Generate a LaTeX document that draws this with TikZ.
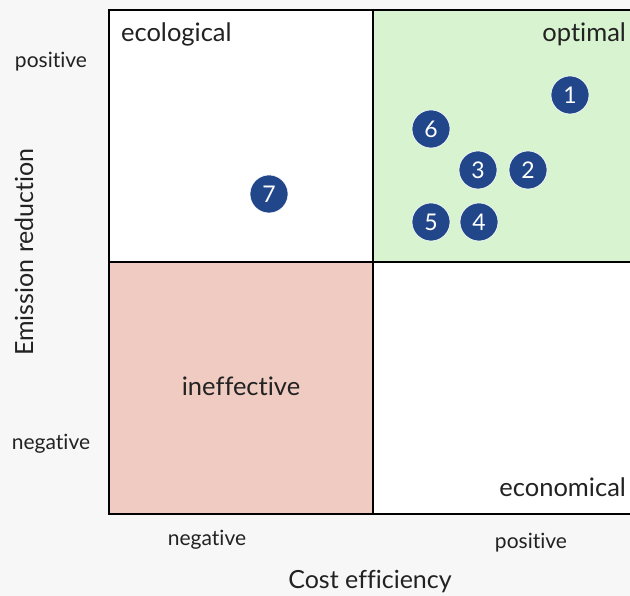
\documentclass[tikz,border=0pt]{standalone}
\usepackage{fontspec}
\setmainfont[Ligatures=NoCommon]{Lato}
\tikzset{
every picture/.style={
line width=1.5pt
}}
\usetikzlibrary{positioning}
\definecolor{bggray}{HTML}{F7F7F7}
\definecolor{optgreen}{HTML}{D8F3CF}
\definecolor{ineffred}{HTML}{F0CBC1}
\definecolor{dotblue}{HTML}{21478A}
\definecolor{textgray}{HTML}{222222}

\begin{document}
\begin{tikzpicture}[x=1pt, y=1pt,
cell/.style = {rectangle, draw=black, minimum width=264pt, minimum height=252pt, inner sep=0pt},
dot/.style = {circle, fill=dotblue, draw=white, line width=0.6pt, minimum size=38pt, inner sep=0pt, text=white, font=\fontsize{23}{23}\selectfont},
lbl/.style = {text=textgray, font=\fontsize{25.5}{25.5}\selectfont},
tick/.style = {text=textgray, font=\fontsize{21}{21}\selectfont},
axis/.style = {text=textgray, font=\fontsize{25}{25}\selectfont}]
\useasboundingbox[fill=bggray] (0,0) rectangle (630,596);

\node[cell, fill=white] at (241,460) (eco) {};
\node[cell, fill=optgreen] at (505,460) (opt) {};
\node[cell, fill=ineffred] at (241,208) (ineff) {};
\node[cell, fill=white] at (505,208) (econ) {};

\node[lbl, anchor=base west] at (117,554) (ecol) {ecological};
\node[lbl, anchor=base east] at (630,554) (optl) {optimal};
\node[lbl] at (241,210) (ineffl) {ineffective};
\node[lbl, anchor=base east] at (630,99) (econl) {economical};

\node[dot] at (570,501) (d1) {1};
\node[dot] at (528,426) (d2) {2};
\node[dot] at (478,426) (d3) {3};
\node[dot] at (479,374) (d4) {4};
\node[dot] at (431,374) (d5) {5};
\node[dot] at (431,467) (d6) {6};
\node[dot] at (269,402) (d7) {7};

\node[tick] at (51,534) (ypos) {positive};
\node[tick] at (51,152) (yneg) {negative};
\node[axis, rotate=90] at (24,344) (ylab) {Emission reduction};
\node[tick] at (207,56) (xneg) {negative};
\node[tick] at (531,53) (xpos) {positive};
\node[axis] at (370,14) (xlab) {Cost efficiency};
\end{tikzpicture}
\end{document}
